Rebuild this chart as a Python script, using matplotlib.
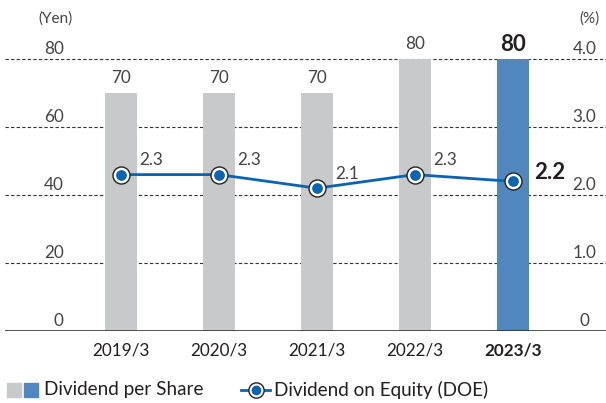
import matplotlib
matplotlib.use("Agg")
import matplotlib.pyplot as plt
from matplotlib.lines import Line2D
from matplotlib.patches import Rectangle

plt.rcParams['font.family'] = ['Lato', 'DejaVu Sans']

years = ['2019/3', '2020/3', '2021/3', '2022/3', '2023/3']
dividend = [70, 70, 70, 80, 80]
doe = [2.3, 2.3, 2.1, 2.3, 2.2]
yen_ticks = [0, 20, 40, 60, 80]
pct_ticks = ['0', '1.0', '2.0', '3.0', '4.0']

GRAY = '#c8c9cb'
BLUE = '#5087bf'
LINE = '#0a64b4'
TEXT = '#231f20'
FS = 12.3

fig = plt.figure(figsize=(6.06, 4.03), dpi=100)
ax = fig.add_axes([5 / 606, 72 / 403, 601 / 606, 331 / 403])
ax.set_xlim(-1.18, 4.95)
ax.set_ylim(0, 331 / 3.4)
ax.axis('off')

x = list(range(len(years)))
colors = [GRAY] * (len(years) - 1) + [BLUE]
ax.bar(x, dividend, width=0.33, color=colors, zorder=2)

# grid lines
for v in yen_ticks[1:]:
    ax.axhline(v, color='#333333', lw=0.8, ls=(0, (3, 2)), zorder=1)
ax.axhline(0, color='#333333', lw=1.2, zorder=3)

# tick labels on both sides
for v, p in zip(yen_ticks, pct_ticks):
    ax.text(-0.58, v + 2.9, str(v), ha='right', va='center', fontsize=FS, color='#444444')
    ax.text(4.73, v + 2.9, p, ha='center', va='center', fontsize=FS, color='#444444')
ax.text(-0.67, 92.0, '(Yen)', ha='center', va='center', fontsize=11, color='#444444')
ax.text(4.78, 92.0, '(%)', ha='center', va='center', fontsize=11, color='#444444')

# bar values
for i, v in enumerate(dividend):
    last = i == len(years) - 1
    ax.text(i, v + 4.3, str(v), ha='center', va='center',
            fontsize=16 if last else FS, fontweight='bold' if last else 'normal',
            color=TEXT if last else '#444444')

# DOE line (right axis 0-4 mapped to 0-80)
doe_y = [d * 20 for d in doe]
ax.plot(x, doe_y, color=LINE, lw=2, zorder=4)
ax.scatter(x, doe_y, s=150, color='white', edgecolor='#222222', linewidth=1, zorder=5)
ax.scatter(x, doe_y, s=45, color=LINE, zorder=6)
for i, d in enumerate(doe):
    last = i == len(years) - 1
    if last:
        ax.text(i + 0.22, d * 20 + 2.6, f'{d:.1f}', ha='left', va='center',
                fontsize=16, fontweight='bold', color=TEXT)
    else:
        ax.text(i + 0.19, d * 20 + 4.2, f'{d:.1f}', ha='left', va='center',
                fontsize=FS, color='#444444')

# x labels
for i, yr in enumerate(years):
    last = i == len(years) - 1
    ax.text(i, -5.8, yr, ha='center', va='center', fontsize=FS,
            fontweight='bold' if last else 'normal', color=TEXT)

# legend
fig.patches.append(Rectangle((7 / 606, 1 - 397 / 403), 14 / 606, 14 / 403,
                             transform=fig.transFigure, color=GRAY, figure=fig))
fig.patches.append(Rectangle((24 / 606, 1 - 397 / 403), 14 / 606, 14 / 403,
                             transform=fig.transFigure, color=BLUE, figure=fig))
fig.text(44 / 606, 1 - 390 / 403, 'Dividend per Share', ha='left', va='center',
         fontsize=13.6, color=TEXT)
fig.lines.append(Line2D([241 / 606, 270 / 606], [1 - 390 / 403] * 2, transform=fig.transFigure,
                        color=LINE, lw=2, figure=fig))
fig.lines.append(Line2D([255.5 / 606], [1 - 390 / 403], transform=fig.transFigure, marker='o',
                        ms=11, mfc='white', mec='#222222', mew=1, figure=fig))
fig.lines.append(Line2D([255.5 / 606], [1 - 390 / 403], transform=fig.transFigure, marker='o',
                        ms=6, mfc=LINE, mec=LINE, figure=fig))
fig.text(274 / 606, 1 - 390 / 403, 'Dividend on Equity (DOE)', ha='left', va='center',
         fontsize=13.6, color=TEXT)

fig.savefig('out.png', dpi=100)
